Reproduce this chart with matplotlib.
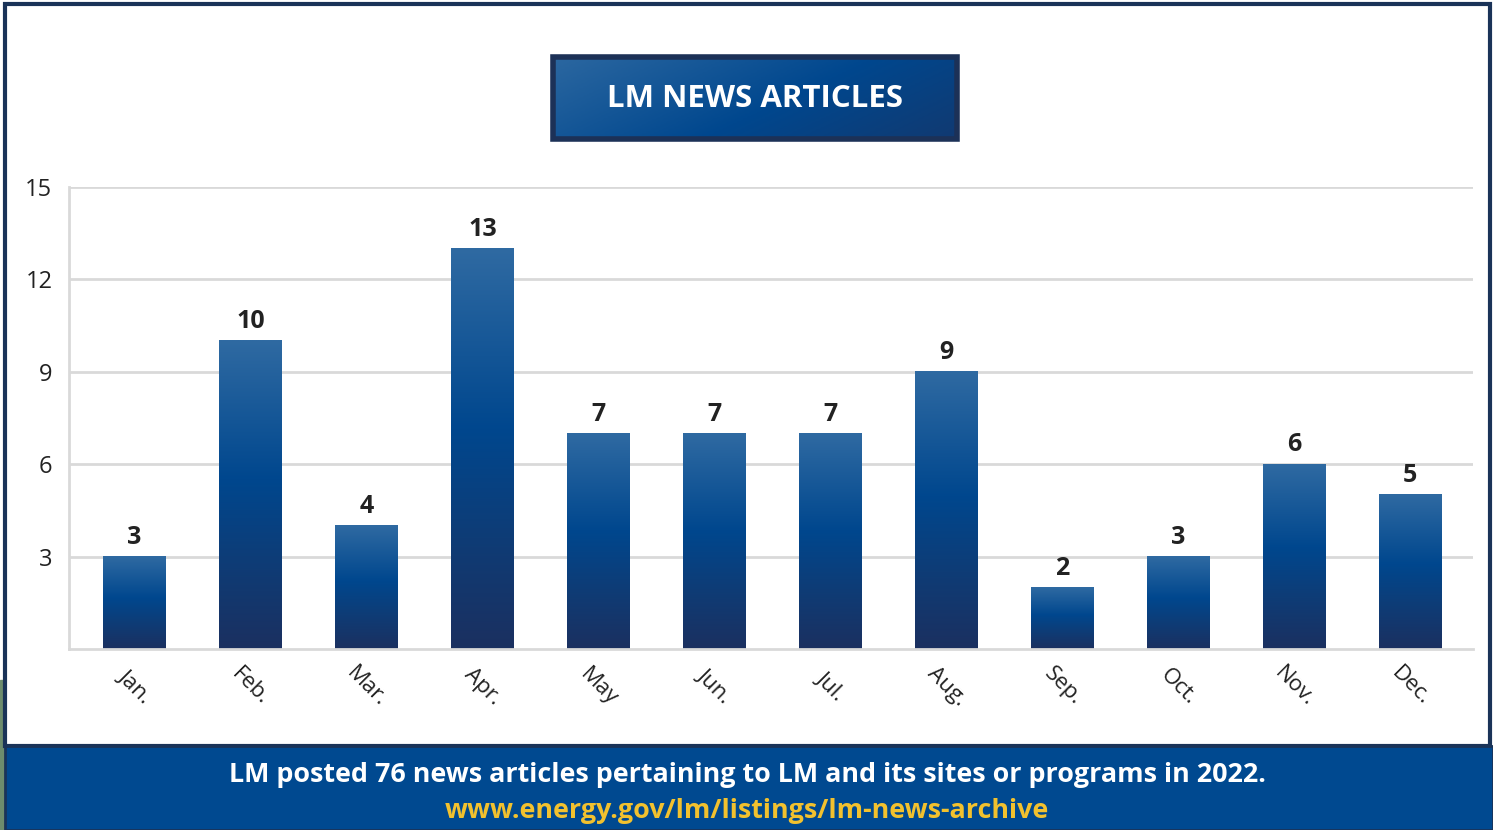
import numpy as np
import matplotlib
matplotlib.use('Agg')
import matplotlib.pyplot as plt
from matplotlib.colors import LinearSegmentedColormap
from matplotlib.patches import Rectangle

months = ['Jan.', 'Feb.', 'Mar.', 'Apr.', 'May', 'Jun.', 'Jul.', 'Aug.', 'Sep.', 'Oct.', 'Nov.', 'Dec.']
articles = [3, 10, 4, 13, 7, 7, 7, 9, 2, 3, 6, 5]
yticks = [3, 6, 9, 12, 15]
title = 'LM NEWS ARTICLES'
note = 'LM posted 76 news articles pertaining to LM and its sites or programs in 2022.'
link = 'www.energy.gov/lm/listings/lm-news-archive'

plt.rcParams['font.family'] = ['Open Sans', 'DejaVu Sans']

W, H = 1493, 830
fig = plt.figure(figsize=(W / 100, H / 100), dpi=100)
fig.patch.set_facecolor('white')

# decoration layer in pixel coords
bg = fig.add_axes([0, 0, 1, 1], zorder=0)
bg.set_xlim(0, W)
bg.set_ylim(H, 0)
bg.axis('off')
navy = '#1a3358'
bg.add_patch(Rectangle((0, 680), 4, 150, color='#6d8c6d'))
bg.add_patch(Rectangle((5, 4), 1485, 742, facecolor='white', edgecolor=navy, lw=3))
bg.add_patch(Rectangle((5, 746), 1488, 84, facecolor='#004990', edgecolor=navy, lw=2))
bg.text(747, 775, note, color='white', fontsize=19.4, fontweight='bold', ha='center', va='center')
bg.text(747, 811, link, color='#f2c12e', fontsize=19.4, fontweight='bold', ha='center', va='center')

# title box with diagonal gradient
bar_cmap = LinearSegmentedColormap.from_list(
    'lm', [(0, '#1b3060'), (0.3, '#0d3d78'), (0.55, '#00478e'), (1, '#2f6aa2')])
gx, gy = np.meshgrid(np.linspace(0, 1, 200), np.linspace(0, 1, 50))
grad = 1 - (0.7 * gx + 0.3 * gy)
bg.imshow(grad, cmap=bar_cmap, extent=[553, 957, 139, 57], aspect='auto', vmin=-0.3, vmax=1.05, zorder=1)
bg.add_patch(Rectangle((553, 57), 404, 82, facecolor='none', edgecolor='#1c3157', lw=4, zorder=2))
bg.set_xlim(0, W)
bg.set_ylim(H, 0)
bg.text(755, 99, title, color='white', fontsize=22.5, fontweight='bold', ha='center', va='center', zorder=3)

# main chart
ax = fig.add_axes([69 / W, (H - 649) / H, 1404 / W, 462 / H], zorder=1)
ax.patch.set_alpha(0)
x = np.arange(len(months))
bw = 0.543
ax.set_yticks(yticks)
ax.yaxis.grid(True, color='#d9d9d9', lw=2)
ax.set_axisbelow(True)
for s in ['top', 'right']:
    ax.spines[s].set_visible(False)
for s in ['left', 'bottom']:
    ax.spines[s].set_color('#d9d9d9')
    ax.spines[s].set_linewidth(2)

ramp = np.linspace(0, 1, 256).reshape(-1, 1)
for xi, v in zip(x, articles):
    ax.imshow(ramp, cmap=bar_cmap, origin='lower', aspect='auto',
              extent=[xi - bw / 2, xi + bw / 2, 0, v], zorder=2)
    ax.text(xi, v + 0.22, '%d' % v, ha='center', va='bottom', fontsize=18,
            fontweight='bold', color='#222222', zorder=3)
ax.set_xlim(-0.565, 11.54)
ax.set_ylim(0, 15)

ax.set_xticks(x)
ax.set_xticklabels(months, rotation=-45, ha='center', va='center', rotation_mode='anchor')
ax.tick_params(axis='x', length=0, pad=27, labelsize=16, labelcolor='#222222')
ax.tick_params(axis='y', length=0, pad=12, labelsize=17, labelcolor='#222222')

fig.savefig('out.png', dpi=100)
